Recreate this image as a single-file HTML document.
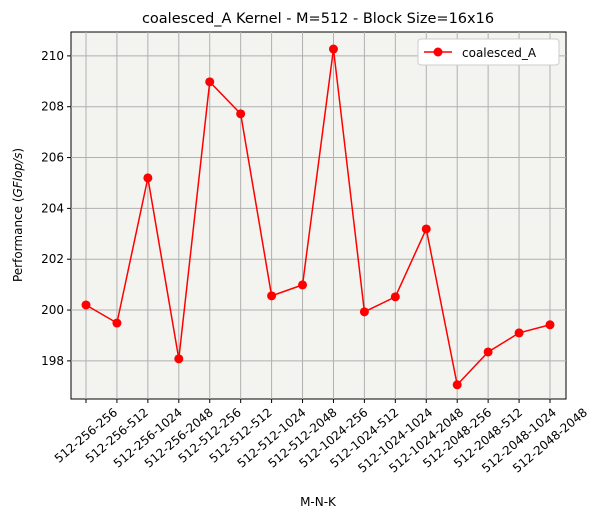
<!DOCTYPE html>
<html><head><meta charset="utf-8"><style>
body{margin:0;background:#fff;font-family:"Liberation Sans","DejaVu Sans",sans-serif;}
svg text{font-family:"DejaVu Sans","Liberation Sans",sans-serif;}
</style></head><body>
<svg id="chart" width="605" height="520" xmlns="http://www.w3.org/2000/svg">
<rect x="0" y="0" width="605" height="520" fill="#fff"/>
<rect x="71" y="32" width="495" height="367" fill="#f3f4ef" stroke="#000" stroke-width="1"/>
<g id="grid"></g><g id="ticks"></g><g id="series"></g>
<text x="318" y="23" font-size="14.5" text-anchor="middle">coalesced_A Kernel - M=512 - Block Size=16x16</text>
<text x="318" y="506" font-size="12" text-anchor="middle">M-N-K</text>
<text transform="translate(22,215) rotate(-90)" font-size="12" text-anchor="middle">Performance (<tspan font-style="italic">GFlop/s</tspan>)</text>
<g>
<rect x="418" y="39" width="141" height="26" fill="#fff" stroke="#ccc" rx="3"/>
<line x1="424" y1="52" x2="452" y2="52" stroke="red" stroke-width="1.5"/>
<circle cx="438" cy="52" r="4.5" fill="red"/>
<text x="462" y="57" font-size="12">coalesced_A</text>
</g>
</svg>
<script>
const categories=["512-256-256","512-256-512","512-256-1024","512-256-2048","512-512-256","512-512-512","512-512-1024","512-512-2048","512-1024-256","512-1024-512","512-1024-1024","512-1024-2048","512-2048-256","512-2048-512","512-2048-1024","512-2048-2048"];
const values=[200.20,199.49,205.20,198.08,208.98,207.72,200.56,200.99,210.27,199.93,200.52,203.19,197.06,198.35,199.10,199.42];
const yTicks=[198,200,202,204,206,208,210];
const NS="http://www.w3.org/2000/svg";
const X0=86,X1=550,Y0=399,Y1=32,vmin=196.5,vmax=210.94;
const xs=i=>X0+(X1-X0)*i/(categories.length-1);
const ys=v=>Y0-(v-vmin)/(vmax-vmin)*(Y0-Y1);
function mk(t,a,p){const e=document.createElementNS(NS,t);for(const k in a)e.setAttribute(k,a[k]);p.appendChild(e);return e;}
const g=document.getElementById('grid'),tk=document.getElementById('ticks'),s=document.getElementById('series');
const A=40*Math.PI/180;
categories.forEach((c,i)=>{const x=xs(i);
const l=mk('line',{x1:x,x2:x,y1:32,y2:399,stroke:'#b0b0b0','stroke-width':1},g);


mk('line',{x1:x,x2:x,y1:399,y2:403,stroke:'#000'},tk);
const t=mk('text',{x:0,y:0,'font-size':12,'text-anchor':'middle','dominant-baseline':'central'},tk);
t.textContent=c;


const L=t.getComputedTextLength(),h=12;
const bh=L*Math.sin(A)+h*Math.cos(A);
const cy=406+bh/2;
t.setAttribute('transform',`translate(${x},${cy}) rotate(-40)`);
});
yTicks.forEach(v=>{const y=ys(v);
const l=mk('line',{x1:71,x2:566,y1:y,y2:y,stroke:'#b0b0b0','stroke-width':1},g);


mk('line',{x1:67,x2:71,y1:y,y2:y,stroke:'#000'},tk);
const t=mk('text',{x:64,y:y+4,'font-size':12,'text-anchor':'end'},tk);
t.textContent=v;


});
const pl=mk('polyline',{points:values.map((v,i)=>xs(i)+','+ys(v)).join(' '),fill:'none',stroke:'red','stroke-width':1.5},s);


values.forEach((v,i)=>{const c=mk('circle',{cx:xs(i),cy:ys(v),r:4.5,fill:'red'},s);

});
</script>
</body></html>
